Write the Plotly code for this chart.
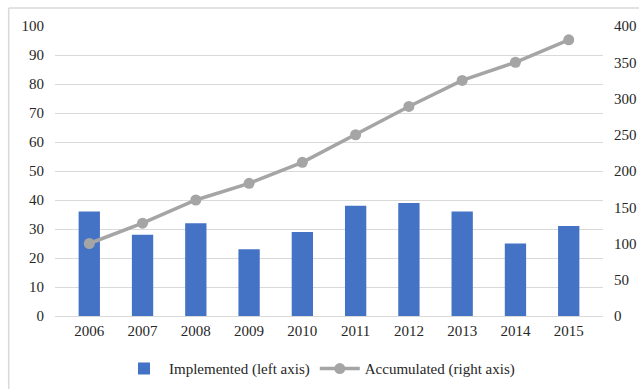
import plotly.graph_objects as go

years = ["2006", "2007", "2008", "2009", "2010", "2011", "2012", "2013", "2014", "2015"]
implemented = [36, 28, 32, 23, 29, 38, 39, 36, 25, 31]
accumulated = [100, 128, 160, 183, 212, 250, 289, 325, 350, 381]
left_ticks = [0, 10, 20, 30, 40, 50, 60, 70, 80, 90, 100]
right_ticks = [0, 50, 100, 150, 200, 250, 300, 350, 400]

FONT = "Liberation Serif, Times New Roman, serif"
TXT = "#262626"

fig = go.Figure()
fig.add_trace(go.Bar(
    x=years, y=implemented, name="Implemented (left axis)",
    marker=dict(color="#4472C4", line=dict(width=0)), yaxis="y",
))
fig.add_trace(go.Scatter(
    x=years, y=accumulated, name="Accumulated (right axis)",
    mode="lines+markers", line=dict(color="#A5A5A5", width=3.5),
    marker=dict(color="#A5A5A5", size=11), yaxis="y2",
))

fig.update_layout(
    width=639, height=389,
    margin=dict(l=55, r=36, t=26, b=73, autoexpand=False),
    paper_bgcolor="white", plot_bgcolor="white",
    font=dict(family=FONT, size=15, color=TXT),
    bargap=0.6,
    showlegend=True,
    legend=dict(orientation="h", x=0.5, xanchor="center", xref="container",
                y=0.052, yanchor="middle", yref="container",
                font=dict(family=FONT, size=15, color=TXT), itemwidth=40),
    xaxis=dict(showgrid=False, showline=False, ticks="", tickfont=dict(size=15),
               ticklabelstandoff=4, automargin=False),
    yaxis=dict(range=[0, 100], tickvals=left_ticks, showgrid=True, gridcolor="#d9d9d9",
               gridwidth=1, zeroline=True, zerolinecolor="#d9d9d9", zerolinewidth=1,
               showline=False, ticks="", ticklabelstandoff=10, tickfont=dict(size=15),
               automargin=False),
    yaxis2=dict(range=[0, 400], tickvals=right_ticks, overlaying="y", side="right",
                showgrid=False, zeroline=False, showline=False, ticks="",
                ticklabelstandoff=10, tickfont=dict(size=15), automargin=False),
    shapes=[
        dict(type="line", xref="paper", yref="paper", x0=-0.0845, x1=1.2, y0=1.062, y1=1.062,
             line=dict(color="#d9d9d9", width=1.5)),
        dict(type="line", xref="paper", yref="paper", x0=-0.0845, x1=-0.0845, y0=1.062, y1=-0.4,
             line=dict(color="#d9d9d9", width=1.5)),
    ],
)

fig.write_html("out.html")
